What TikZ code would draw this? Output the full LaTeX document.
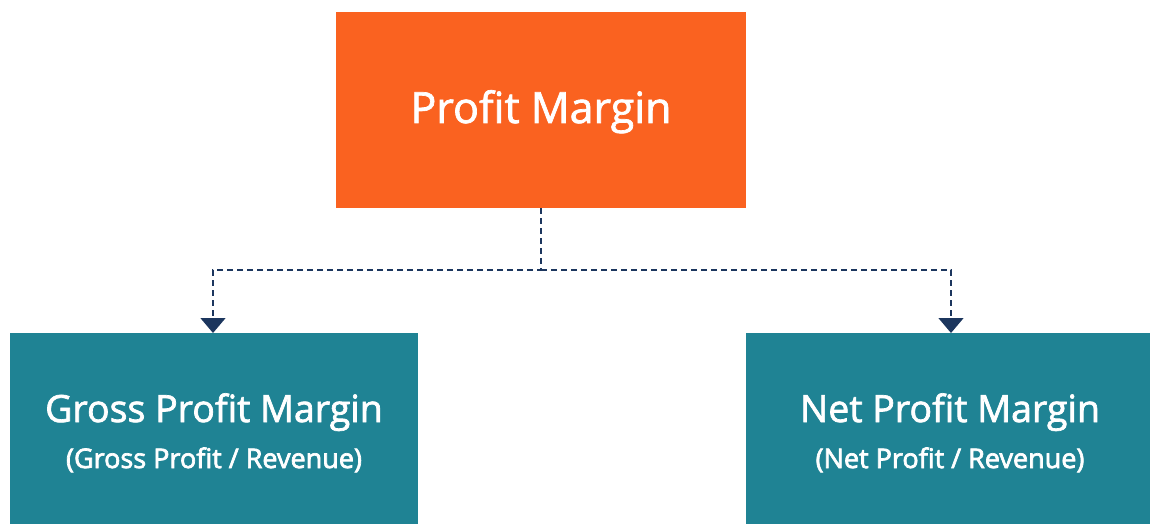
\documentclass[tikz,border=0pt]{standalone}
\usepackage{fontspec}
\setmainfont{Open Sans}
\usetikzlibrary{arrows.meta}
\definecolor{pmorange}{HTML}{FA6220}
\definecolor{pmteal}{HTML}{1F8394}
\definecolor{pmnavy}{HTML}{1C365E}
\newcommand\pmheavy[1]{\special{pdf:literal direct 2 Tr 0.7 w}#1\special{pdf:literal direct 0 Tr}}
\tikzset{
  box/.style={rectangle, inner sep=0pt, outer sep=0pt, draw=none},
  titletext/.style={text=white, font=\fontsize{37.5}{40}\selectfont, anchor=base, inner sep=0pt},
  subtext/.style={text=white, font=\fontsize{27}{30}\selectfont, anchor=base, inner sep=0pt},
  link/.style={draw=pmnavy, line width=1.4pt, dash pattern=on 6pt off 4pt,
    -{Triangle[width=25pt,length=15pt]}},
}
\begin{document}
\begin{tikzpicture}[x=1pt,y=-1pt]
\useasboundingbox (0,0) rectangle (1150,524);
\node[box, fill=pmorange, minimum width=410pt, minimum height=196pt] (top) at (541,110) {};
\node[text=white, font=\fontsize{43}{46}\selectfont, anchor=base, inner sep=0pt] (toptxt) at (541,123) {\pmheavy{Profit Margin}};
\node[box, fill=pmteal, minimum width=408pt, minimum height=200pt] (left) at (214,433) {};
\node[box, fill=pmteal, minimum width=408pt, minimum height=200pt] (right) at (950,433) {};
\node[titletext] (lt) at (214,422) {\pmheavy{Gross Profit Margin}};
\node[subtext] (ls) at (214,468) {\pmheavy{(Gross Profit / Revenue)}};
\node[titletext] (rt) at (950,422) {\pmheavy{Net Profit Margin}};
\node[subtext] (rs) at (950,468) {\pmheavy{(Net Profit / Revenue)}};
\coordinate (mid) at (541,270);
\draw[link] (top.south) -- (mid) -| ([xshift=-1pt]left.north);
\draw[link] (mid) -| ([xshift=1pt]right.north);
\end{tikzpicture}
\end{document}
